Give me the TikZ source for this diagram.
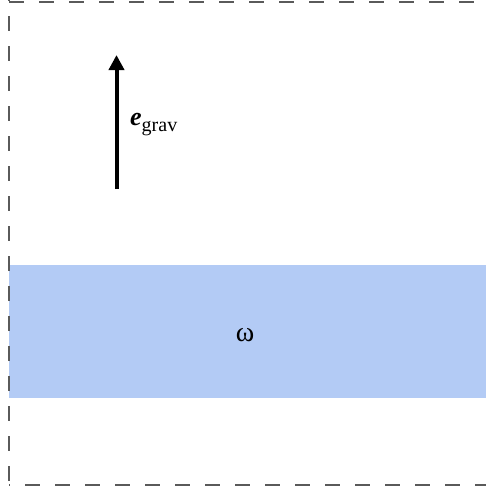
\documentclass[tikz,border=0pt]{standalone}
\usepackage{fontspec}
\setmainfont{Liberation Serif}
\usetikzlibrary{positioning,arrows.meta}
\definecolor{layerblue}{RGB}{179,203,245}
\definecolor{bordergray}{RGB}{90,90,90}

\begin{document}
\begin{tikzpicture}[x=1pt,y=-1pt,
    border/.style={draw=bordergray,line width=1.5pt,dash pattern=on 15pt off 15pt},
    layer/.style={fill=layerblue},
    grav/.style={-{Triangle[length=15pt,width=15pt]},line width=4pt},
    lbl/.style={inner sep=0pt,anchor=base}]
    \useasboundingbox (0,0) rectangle (486,493);
    \clip (0,0) rectangle (486,493);
    \fill[layer] (9,265) rectangle (500,398);
    \node[lbl] (omega) at (245,341) {\fontsize{28}{30}\selectfont ω};
    \draw[border] (9,2) -- (500,2);
    \draw[border,dash phase=14pt] (9,0) -- (9,485);
    \draw[border,dash phase=14pt] (9,485) -- (500,485);
    \coordinate (gbase) at (116.5,189);
    \coordinate (gtip) at (116.5,55);
    \draw[grav] (gbase) -- (gtip);
    \node[lbl,anchor=base west] (egrav) at (130,125)
        {\fontsize{26}{28}\selectfont\textbf{\textit{e}}\raisebox{-6pt}{\fontsize{20}{24}\selectfont grav}};
\end{tikzpicture}
\end{document}
